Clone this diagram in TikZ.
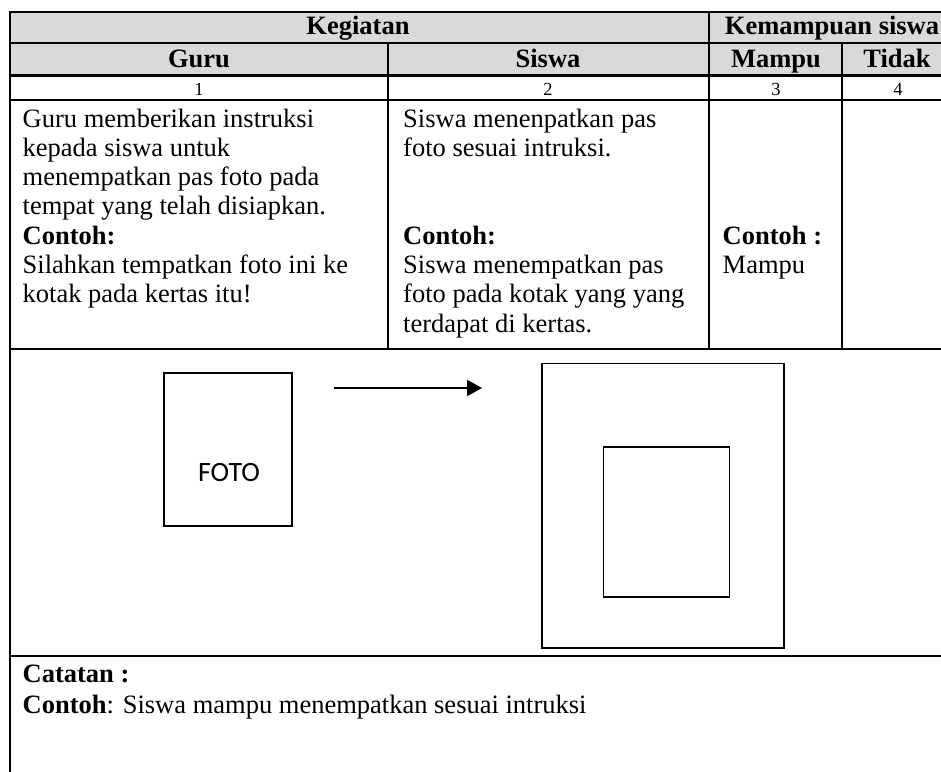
\documentclass[tikz,border=0pt]{standalone}
\usepackage{fontspec}
\setmainfont{Liberation Serif}
\newfontfamily\calibrifont{Carlito}
\usetikzlibrary{arrows.meta}
\definecolor{headgray}{HTML}{D9D9D9}

\begin{document}
\begin{tikzpicture}[x=1pt,y=-1pt,
  rule/.style={line width=2.4pt},
  shapeline/.style={line width=1.7pt},
  body/.style={font=\fontsize{26.5}{29.3}\selectfont, inner sep=0pt, anchor=base west},
  bodybold/.style={body, font=\bfseries\fontsize{26.5}{29.3}\selectfont},
  head/.style={font=\bfseries\fontsize{26.5}{29.3}\selectfont, inner sep=0pt, anchor=base},
  num/.style={font=\fontsize{18.5}{20}\selectfont, inner sep=0pt, anchor=base}]
\useasboundingbox (0,0) rectangle (941,771);

% table grid (the table runs on past the right and bottom edges)
\begin{scope}
  \clip (0,0) rectangle (941,771);
  \fill[headgray] (10,12) rectangle (960,75);
  \draw[rule] (10,12) -- (960,12);
  \draw[rule] (10,43) -- (960,43);
  \draw[rule] (10,75.5) -- (960,75.5);
  \draw[rule] (10,100) -- (960,100);
  \draw[rule] (10,349) -- (960,349);
  \draw[rule] (10,656) -- (960,656);
  \draw[rule] (10,10.8) -- (10,780);
  \draw[rule] (388,43) -- (388,349);
  \draw[rule] (709,12) -- (709,349);
  \draw[rule] (842,43) -- (842,349);
  \draw[rule] (955,12) -- (955,349);
\end{scope}

% header rows
\node[head] (hkeg)  at (358,34) {Kegiatan};
\node[head] (hkem)  at (832,34) {Kemampuan siswa};
\node[head] (hguru) at (199,67) {Guru};
\node[head] (hsis)  at (548,67) {Siswa};
\node[head] (hmam)  at (776,67) {Mampu};
\node[head] (htid)  at (897,67) {Tidak};
\node[num] (n1) at (199,95) {1};
\node[num] (n2) at (548,95) {2};
\node[num] (n3) at (776,95) {3};
\node[num] (n4) at (898,95) {4};

% column 1: teacher
\node[body] (g1) at (22.5,127)   {Guru memberikan instruksi};
\node[body] (g2) at (22.5,156.3) {kepada siswa untuk};
\node[body] (g3) at (22.5,185.6) {menempatkan pas foto pada};
\node[body] (g4) at (22.5,214.9) {tempat yang telah disiapkan.};
\node[bodybold] (g5) at (22.5,244.2) {Contoh:};
\node[body] (g6) at (22.5,273.5) {Silahkan tempatkan foto ini ke};
\node[body] (g7) at (22.5,302.8) {kotak pada kertas itu!};

% column 2: student
\node[body] (s1) at (403,127)   {Siswa menenpatkan pas};
\node[body] (s2) at (403,156.3) {foto sesuai intruksi.};
\node[bodybold] (s5) at (403,244.2) {Contoh:};
\node[body] (s6) at (403,273.5) {Siswa menempatkan pas};
\node[body] (s7) at (403,302.8) {foto pada kotak yang yang};
\node[body] (s8) at (403,332.1) {terdapat di kertas.};

% column 3: ability
\node[bodybold] (m5) at (722.5,244.2) {Contoh :};
\node[body] (m6) at (722.5,273.5) {Mampu};

% illustration: photo, arrow, paper with frame
\draw[shapeline] (164,373) rectangle (292,526);
\node[font=\calibrifont\fontsize{28}{30}\selectfont, inner sep=0pt] (foto) at (229,472.5) {FOTO};
\coordinate (arrS) at (334,388);
\coordinate (arrE) at (482,388);
\draw[line width=2.2pt, -{Triangle[length=15pt,width=16pt]}] (arrS) -- (arrE);
\draw[shapeline] (542,363.5) rectangle (784,648);
\draw[shapeline] (603.5,447) rectangle (729.5,597);

% notes
\node[bodybold] (cat) at (22.5,682) {Catatan :};
\node[body] (catx) at (22.5,713) {\textbf{Contoh}: Siswa mampu menempatkan sesuai intruksi};
\end{tikzpicture}
\end{document}
